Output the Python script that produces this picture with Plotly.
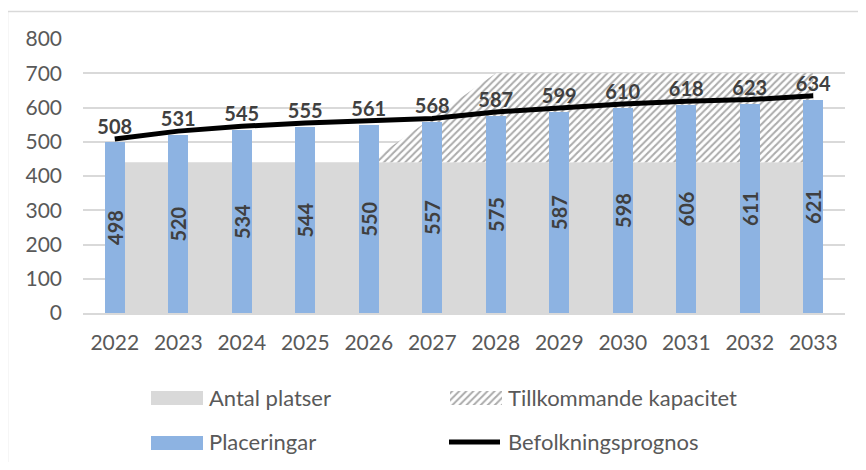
import plotly.graph_objects as go

years = ["2022", "2023", "2024", "2025", "2026", "2027", "2028", "2029", "2030", "2031", "2032", "2033"]
antal_platser = [440, 440, 440, 440, 440, 440, 440, 440, 440, 440, 440, 440]
tillkommande = [0, 0, 0, 0, 0, 130, 260, 260, 260, 260, 260, 260]
placeringar = [498, 520, 534, 544, 550, 557, 575, 587, 598, 606, 611, 621]
befolkning = [508, 531, 545, 555, 561, 568, 587, 599, 610, 618, 623, 634]
y_ticks = [0, 100, 200, 300, 400, 500, 600, 700, 800]

# page body has an 8px margin: figure is sized to fit the 866x470 window
OFF = 8
W, H = 866 - 2 * OFF, 470 - 2 * OFF
FONT = "Lato"
TXT = "#595959"
LBL = "#404040"
GRID = "#d9d9d9"
BLUE = "#8db3e2"
GRAY = "#d9d9d9"

def px(x):
    # screen x -> paper
    return (x - OFF) / W

def py(y):
    # screen y -> paper
    return 1 - (y - OFF) / H

cap_top = [a + t for a, t in zip(antal_platser, tillkommande)]
HATCH = dict(shape="/", fgcolor="#ababab", bgcolor="white", size=5, solidity=0.4)

fig = go.Figure()

# Areas (main subplot, drawn below)
fig.add_trace(go.Scatter(x=years, y=antal_platser, mode="lines", fill="tozeroy",
                         fillcolor=GRAY, line=dict(width=0, color=GRAY),
                         name="Antal platser", xaxis="x", yaxis="y", hoverinfo="skip"))
fig.add_trace(go.Scatter(x=years, y=cap_top, mode="lines", fill="tonexty",
                         fillcolor="white", fillpattern=HATCH,
                         line=dict(width=0, color="#ababab"),
                         name="Tillkommande kapacitet", xaxis="x", yaxis="y", hoverinfo="skip"))

# Bars and line (overlay subplot, drawn above)
fig.add_trace(go.Bar(x=years, y=placeringar, width=0.315, marker=dict(color=BLUE, line=dict(width=0)),
                     text=[str(v) for v in placeringar], textposition="inside",
                     insidetextanchor="middle", textangle=-90, constraintext="none",
                     textfont=dict(family=FONT, size=20, color=LBL, weight="bold"),
                     name="Placeringar", xaxis="x2", yaxis="y2"))
fig.add_trace(go.Scatter(x=years, y=befolkning, mode="lines+text",
                         line=dict(color="black", width=5),
                         text=[str(v) for v in befolkning], textposition="top center",
                         textfont=dict(family=FONT, size=20, color=LBL, weight="bold"),
                         cliponaxis=False,
                         name="Befolkningsprognos", xaxis="x2", yaxis="y2"))

# Legend hatched swatch (pixel overlay axes, screen coordinates)
lx0, lx1, ly0, ly1 = 450, 502, 391, 405
fig.add_trace(go.Scatter(x=[lx0, lx1, lx1, lx0, lx0], y=[ly0, ly0, ly1, ly1, ly0],
                         mode="lines", fill="toself", fillcolor="white", fillpattern=HATCH,
                         line=dict(width=0), xaxis="x3", yaxis="y3", hoverinfo="skip",
                         showlegend=False))

xdom = [px(83), px(845)]
ydom = [py(313), py(39)]

fig.update_layout(
    template="none",
    width=W, height=H,
    margin=dict(l=0, r=0, t=0, b=0, pad=0, autoexpand=False),
    paper_bgcolor="white",
    plot_bgcolor="rgba(0,0,0,0)",
    showlegend=False,
    font=dict(family=FONT, color=TXT, size=21),
    xaxis=dict(type="category", categoryorder="array", categoryarray=years,
               range=[-0.5, len(years) - 0.5], domain=xdom, anchor="y", automargin=False,
               showgrid=False, showline=True, linecolor=GRID, linewidth=1.5, zeroline=False,
               ticks="", tickfont=dict(family=FONT, size=21, color=TXT),
               ticklabelstandoff=10, fixedrange=True),
    yaxis=dict(range=[0, 800], domain=ydom, anchor="x", tickvals=y_ticks, automargin=False,
               showgrid=True, gridcolor=GRID, gridwidth=1.5, zeroline=False,
               showline=False, ticks="", tickfont=dict(family=FONT, size=21, color=TXT),
               ticklabelstandoff=20, fixedrange=True),
    xaxis2=dict(type="category", categoryorder="array", categoryarray=years,
                range=[-0.5, len(years) - 0.5], overlaying="x", anchor="y2", automargin=False,
                visible=False, fixedrange=True),
    yaxis2=dict(range=[0, 800], overlaying="y", anchor="x2", visible=False, automargin=False,
                fixedrange=True),
    xaxis3=dict(domain=[0, 1], range=[OFF, OFF + W], anchor="y3", visible=False,
                automargin=False, fixedrange=True),
    yaxis3=dict(domain=[0, 1], range=[OFF + H, OFF], anchor="x3", visible=False,
                automargin=False, fixedrange=True),
    bargap=0,
)

shapes = [
    # chart border
    dict(type="rect", xref="paper", yref="paper", x0=px(7.5), x1=px(880),
         y0=py(11.5), y1=py(480), line=dict(color="#d9d9d9", width=1.5), fillcolor="rgba(0,0,0,0)"),
    # legend swatches
    dict(type="rect", xref="paper", yref="paper", x0=px(151), x1=px(203),
         y0=py(391), y1=py(405), line=dict(width=0), fillcolor=GRAY),
    dict(type="rect", xref="paper", yref="paper", x0=px(151), x1=px(203),
         y0=py(436), y1=py(450), line=dict(width=0), fillcolor=BLUE),
    dict(type="line", xref="paper", yref="paper", x0=px(449), x1=px(500),
         y0=py(442), y1=py(442), line=dict(color="black", width=5)),
]
fig.update_layout(shapes=shapes)

legend_items = [
    ("Antal platser", 207, 397),
    ("Tillkommande kapacitet", 506, 397),
    ("Placeringar", 207, 441),
    ("Befolkningsprognos", 506, 441),
]
annotations = []
for label, x, y in legend_items:
    annotations.append(dict(text=label, xref="paper", yref="paper", x=px(x), y=py(y),
                            xanchor="left", yanchor="middle", showarrow=False,
                            font=dict(family=FONT, size=22, color=TXT)))
fig.update_layout(annotations=annotations)

fig.write_html("out.html")
